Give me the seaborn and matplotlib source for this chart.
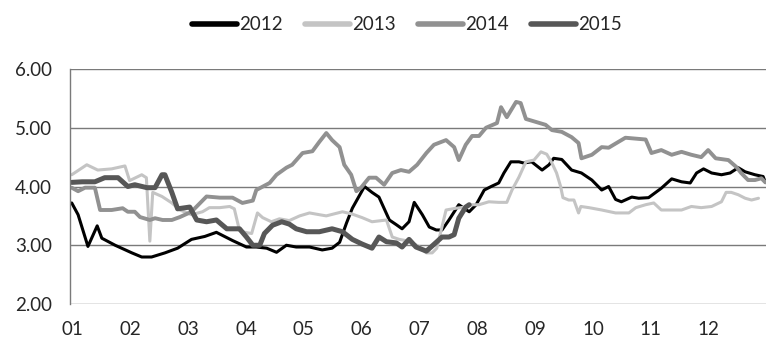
import matplotlib
matplotlib.use("Agg")
import matplotlib.pyplot as plt
import seaborn as sns
import pandas as pd

# x positions are month positions (0 = start of Jan, 12 = end of Dec)
x2012 = [0.03, 0.14, 0.31, 0.47, 0.55, 0.78, 1.07, 1.24, 1.41, 1.64, 1.86, 2.10, 2.33, 2.53,
         2.81, 3.05, 3.22, 3.40, 3.57, 3.74, 3.91, 4.14, 4.36, 4.53, 4.66, 4.78, 4.88, 5.09,
         5.22, 5.34, 5.52, 5.64, 5.74, 5.86, 5.95, 6.09, 6.21, 6.33, 6.43, 6.55, 6.72, 6.90,
         7.02, 7.16, 7.28, 7.41, 7.50, 7.62, 7.76, 7.84, 7.98, 8.16, 8.28, 8.36, 8.50, 8.67,
         8.84, 9.02, 9.19, 9.31, 9.43, 9.53, 9.71, 9.83, 10.00, 10.22, 10.40, 10.57, 10.72,
         10.83, 10.95, 11.09, 11.26, 11.41, 11.55, 11.67, 11.84, 11.98, 12.02]
y2012 = [3.72, 3.52, 2.98, 3.33, 3.12, 3.00, 2.87, 2.80, 2.80, 2.87, 2.95, 3.10, 3.15, 3.22,
         3.08, 2.97, 2.97, 2.95, 2.88, 3.00, 2.97, 2.97, 2.92, 2.95, 3.05, 3.38, 3.63, 4.00,
         3.90, 3.82, 3.43, 3.35, 3.28, 3.40, 3.73, 3.52, 3.31, 3.26, 3.26, 3.43, 3.69, 3.57,
         3.69, 3.94, 4.00, 4.06, 4.23, 4.42, 4.42, 4.40, 4.42, 4.28, 4.37, 4.48, 4.46, 4.28,
         4.23, 4.11, 3.94, 4.00, 3.78, 3.74, 3.82, 3.80, 3.81, 3.97, 4.13, 4.08, 4.06,
         4.23, 4.30, 4.23, 4.20, 4.23, 4.32, 4.25, 4.20, 4.17, 4.07]

x2013 = [0.03, 0.29, 0.48, 0.72, 0.95, 1.03, 1.24, 1.32, 1.38, 1.43, 1.59, 1.76, 1.90, 2.10,
         2.29, 2.41, 2.59, 2.76, 2.84, 2.93, 3.02, 3.14, 3.24, 3.33, 3.48, 3.62, 3.79, 3.97,
         4.14, 4.31, 4.43, 4.71, 4.88, 5.05, 5.22, 5.47, 5.57, 5.69, 5.86, 6.03, 6.16, 6.26,
         6.34, 6.50, 6.67, 6.84, 6.95, 7.07, 7.24, 7.41, 7.55, 7.64, 7.76, 7.88, 8.02, 8.14,
         8.24, 8.33, 8.41, 8.48, 8.52, 8.62, 8.71, 8.79, 8.83, 8.97, 9.19, 9.43, 9.66, 9.78,
         9.95, 10.09, 10.22, 10.40, 10.57, 10.74, 10.91, 11.09, 11.26, 11.34, 11.43, 11.55,
         11.67, 11.78, 11.90]
y2013 = [4.20, 4.37, 4.28, 4.30, 4.35, 4.10, 4.20, 4.15, 3.07, 3.90, 3.83, 3.72, 3.60, 3.52,
         3.57, 3.64, 3.64, 3.66, 3.62, 3.25, 3.22, 3.20, 3.55, 3.47, 3.40, 3.45, 3.42, 3.50,
         3.55, 3.52, 3.50, 3.57, 3.53, 3.47, 3.40, 3.43, 3.14, 3.10, 3.07, 2.98, 2.87, 2.87,
         2.95, 3.60, 3.63, 3.65, 3.69, 3.69, 3.74, 3.73, 3.73, 3.94, 4.16, 4.42, 4.45, 4.59,
         4.55, 4.40, 4.23, 4.00, 3.81, 3.77, 3.77, 3.55, 3.66, 3.64, 3.60, 3.55, 3.55, 3.64,
         3.69, 3.72, 3.60, 3.60, 3.60, 3.66, 3.64, 3.66, 3.74, 3.90, 3.90, 3.86,
         3.80, 3.77, 3.80]

x2014 = [0.03, 0.14, 0.26, 0.43, 0.52, 0.72, 0.91, 1.00, 1.12, 1.21, 1.38, 1.47, 1.60, 1.76,
         1.90, 2.10, 2.36, 2.59, 2.81, 2.98, 3.16, 3.22, 3.45, 3.57, 3.74, 3.84, 4.02, 4.19,
         4.31, 4.43, 4.53, 4.66, 4.74, 4.86, 4.95, 5.03, 5.17, 5.29, 5.43, 5.57, 5.72, 5.86,
         6.00, 6.16, 6.29, 6.50, 6.64, 6.72, 6.84, 6.95, 7.07, 7.19, 7.38, 7.45, 7.55, 7.71,
         7.79, 7.88, 8.05, 8.22, 8.33, 8.50, 8.67, 8.79, 8.84, 9.02, 9.19, 9.31, 9.48, 9.60,
         9.95, 10.05, 10.22, 10.40, 10.57, 10.74, 10.91, 11.03, 11.16, 11.38, 11.52, 11.60,
         11.72, 11.84, 11.95, 12.02]
y2014 = [3.98, 3.92, 3.98, 3.98, 3.60, 3.60, 3.63, 3.57, 3.57, 3.48, 3.43, 3.46, 3.43, 3.43,
         3.48, 3.57, 3.83, 3.81, 3.81, 3.72, 3.76, 3.94, 4.06, 4.20, 4.32, 4.37, 4.57, 4.60,
         4.76, 4.91, 4.79, 4.67, 4.37, 4.20, 3.92, 3.98, 4.15, 4.15, 4.03, 4.23, 4.28, 4.25,
         4.37, 4.57, 4.71, 4.79, 4.67, 4.45, 4.71, 4.86, 4.86, 5.00, 5.08, 5.35, 5.18, 5.44,
         5.42, 5.15, 5.10, 5.05, 4.96, 4.93, 4.84, 4.74, 4.48, 4.54, 4.67, 4.66, 4.76, 4.83,
         4.80, 4.57, 4.62, 4.54, 4.59, 4.54, 4.50, 4.62, 4.48, 4.45, 4.33, 4.23,
         4.11, 4.11, 4.14, 4.07]

x2015 = [0.03, 0.21, 0.43, 0.60, 0.83, 1.00, 1.12, 1.33, 1.47, 1.59, 1.64, 1.76, 1.86, 2.07,
         2.19, 2.36, 2.53, 2.71, 2.93, 3.05, 3.16, 3.28, 3.36, 3.50, 3.66, 3.79, 3.91, 4.09,
         4.31, 4.53, 4.71, 4.88, 5.05, 5.22, 5.34, 5.47, 5.64, 5.74, 5.86, 5.98, 6.16, 6.33,
         6.43, 6.55, 6.64, 6.72, 6.84, 6.90]
y2015 = [4.07, 4.08, 4.08, 4.15, 4.15, 4.00, 4.03, 3.98, 3.98, 4.20, 4.20, 3.90, 3.62, 3.65,
         3.43, 3.40, 3.43, 3.28, 3.28, 3.14, 3.00, 3.00, 3.20, 3.34, 3.40, 3.36, 3.28, 3.23,
         3.23, 3.28, 3.23, 3.10, 3.02, 2.95, 3.14, 3.06, 3.04, 2.97, 3.10, 2.97, 2.90, 3.05,
         3.14, 3.14, 3.18, 3.46, 3.65, 3.69]

month_labels = ["01", "02", "03", "04", "05", "06", "07", "08", "09", "10", "11", "12"]
y_ticks = [2.0, 3.0, 4.0, 5.0, 6.0]

series = [
    ("2012", x2012, y2012, "#000000", 2.2),
    ("2013", x2013, y2013, "#c4c4c4", 2.2),
    ("2014", x2014, y2014, "#919191", 2.8),
    ("2015", x2015, y2015, "#575757", 3.6),
]

sns.set_style("white")
plt.rcParams['font.family'] = ['Lato', 'DejaVu Sans']

fig = plt.figure(figsize=(7.75, 3.55), dpi=100)
ax = fig.add_axes([70 / 775, 1 - 304 / 355, 696 / 775, 235 / 355])

for name, xs, ys, col, lw in series:
    df = pd.DataFrame({"month": xs, "value": ys})
    sns.lineplot(data=df, x="month", y="value", ax=ax, color=col, linewidth=lw,
                 label=name, estimator=None, sort=False,
                 solid_capstyle="round", solid_joinstyle="round")

ax.set_xlim(0, 12.03)
ax.set_ylim(2.0, 6.0)
ax.set_yticks(y_ticks)
ax.set_yticklabels([f"{v:.2f}" for v in y_ticks], fontsize=13.5)
ax.set_xticks([i + 0.04 for i in range(12)])
ax.set_xticklabels(month_labels, fontsize=13.5)
ax.tick_params(axis="y", length=0, pad=13)
ax.tick_params(axis="x", length=0, pad=12)
ax.set_xlabel("")
ax.set_ylabel("")
ax.yaxis.grid(True, color="#7a7a7a", linewidth=1.0)
ax.xaxis.grid(False)
for s in ["top", "right", "bottom"]:
    ax.spines[s].set_visible(False)
ax.spines["left"].set_color("#7a7a7a")
ax.spines["left"].set_linewidth(1.0)
ax.set_axisbelow(True)

handles, labels = ax.get_legend_handles_labels()
ax.legend_.remove()
leg = fig.legend(handles, labels, loc="center", bbox_to_anchor=(407 / 775, 1 - 25 / 355),
                 ncol=4, frameon=False, fontsize=13.5, handlelength=2.4,
                 handletextpad=0.1, columnspacing=1.2)
for h in leg.get_lines():
    h.set_linewidth(4)

fig.savefig("out.png", dpi=100)
